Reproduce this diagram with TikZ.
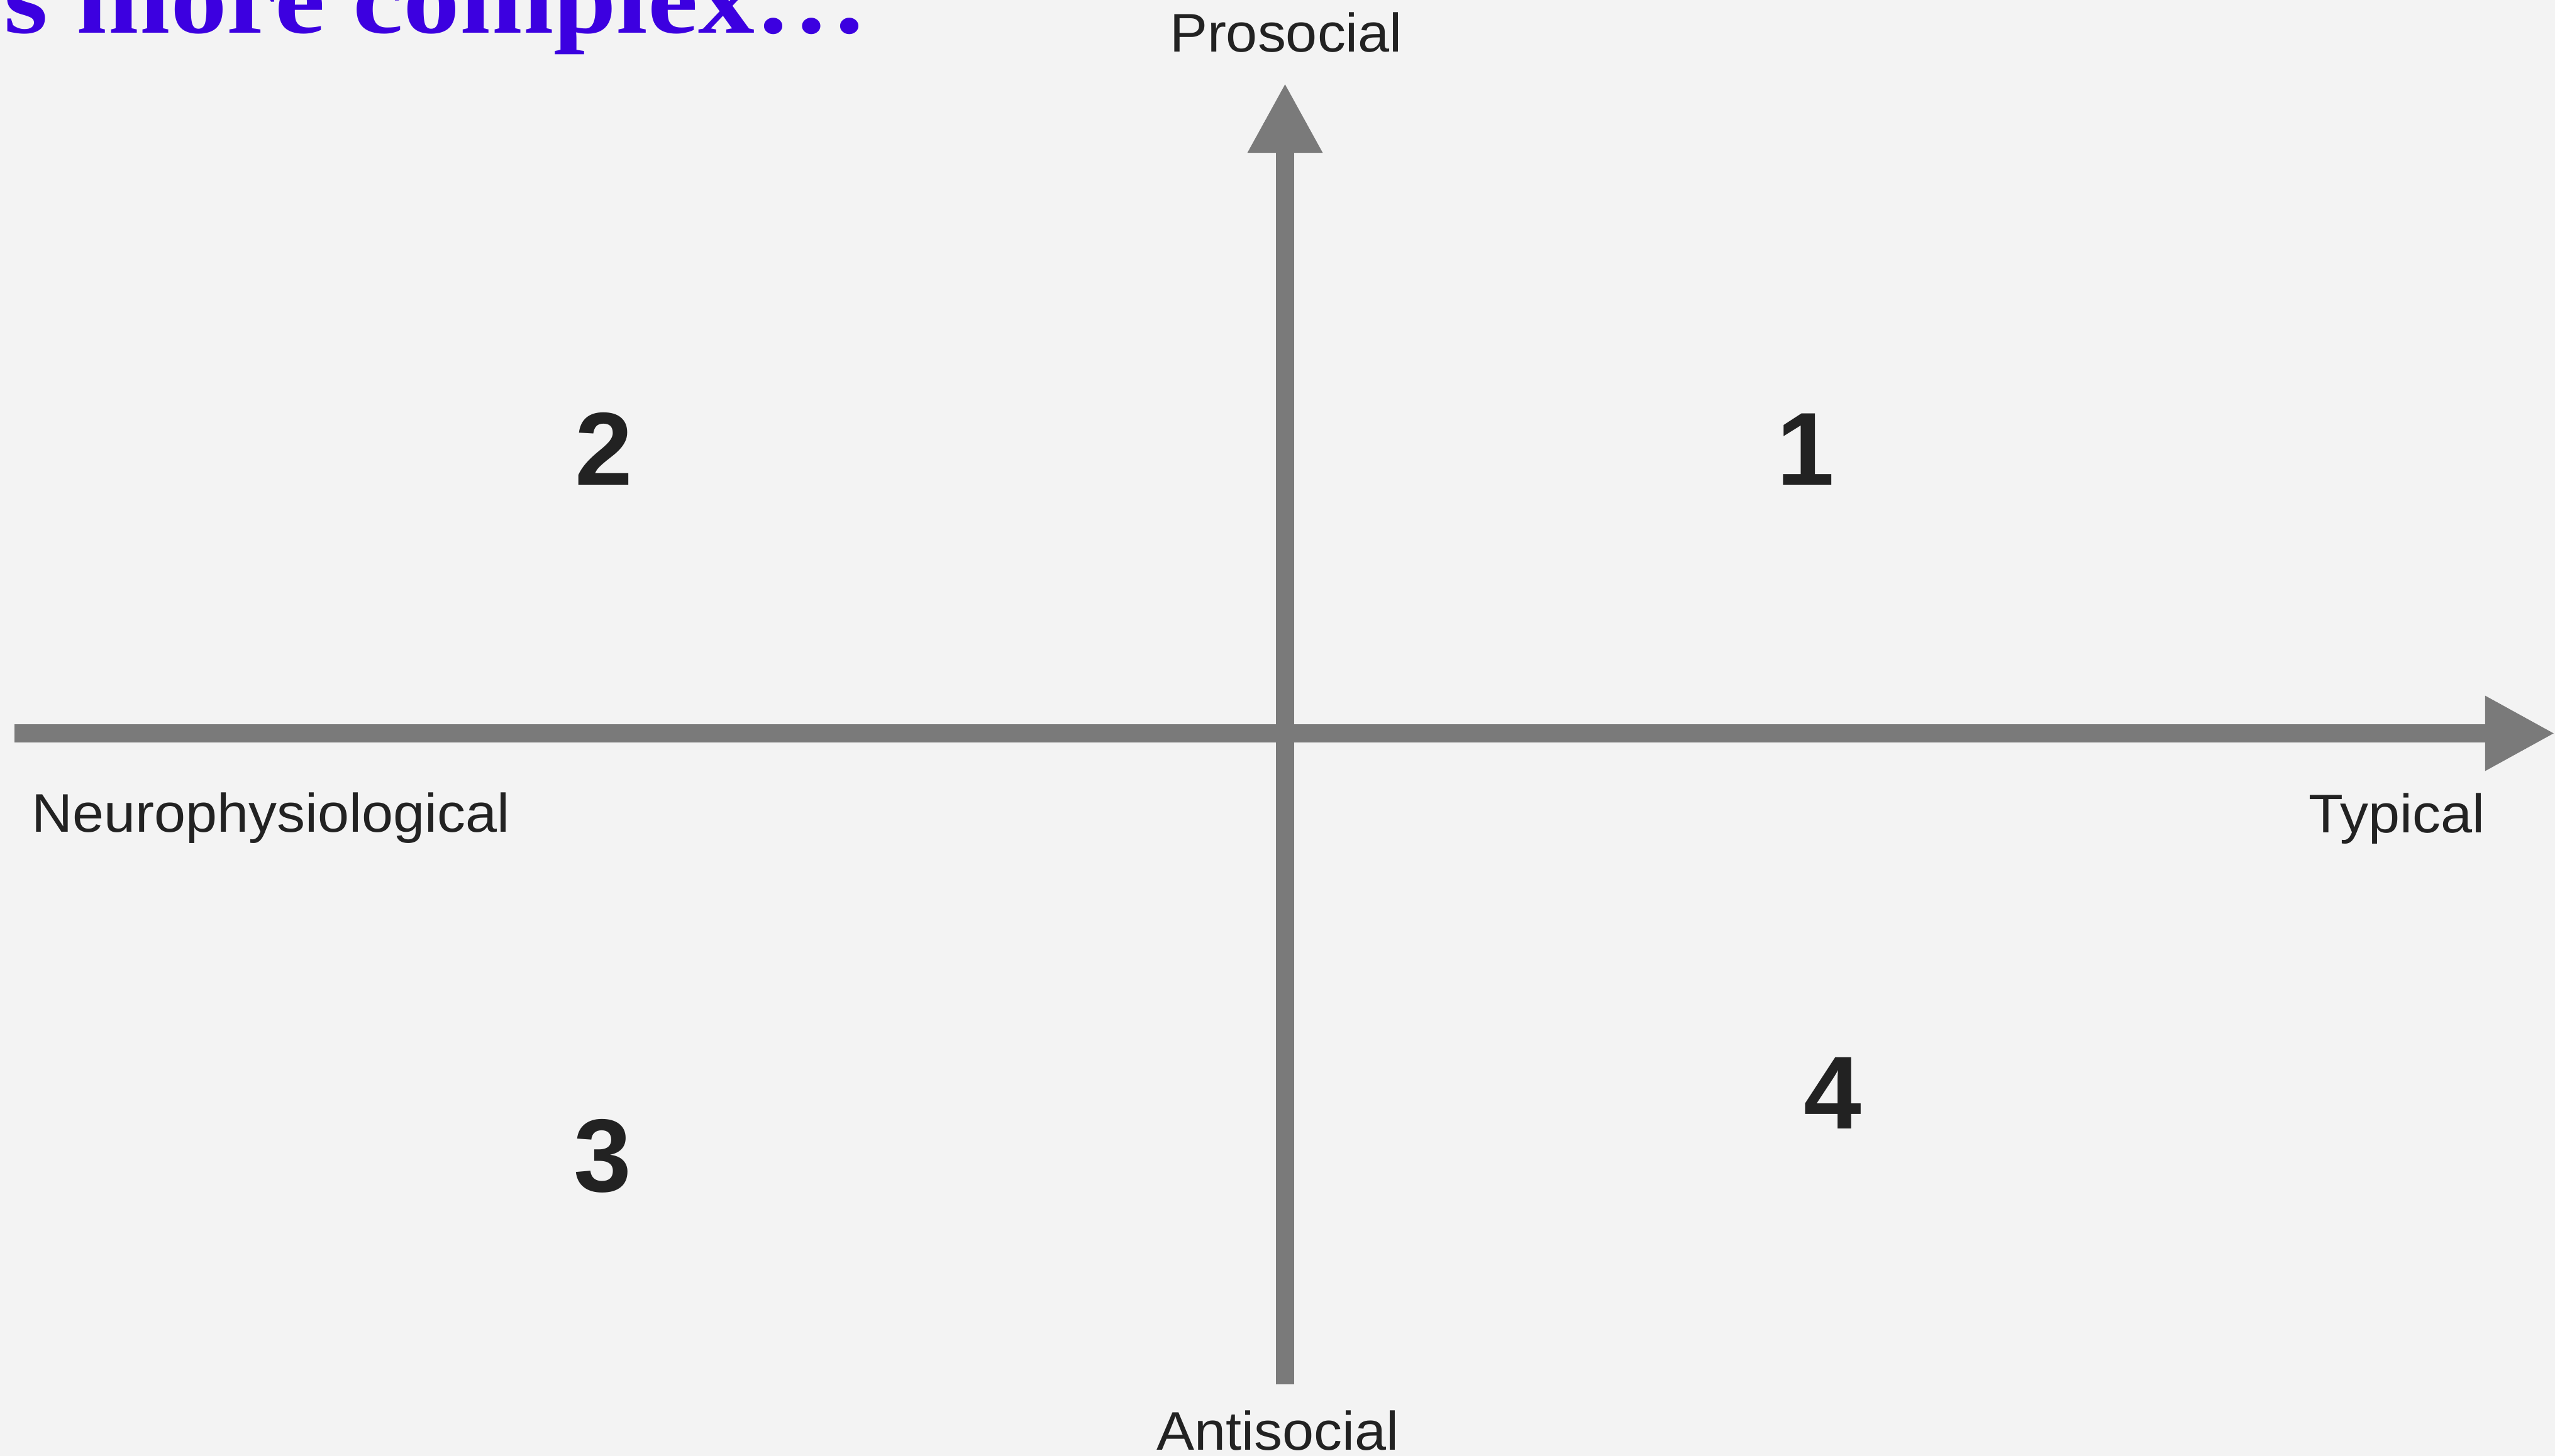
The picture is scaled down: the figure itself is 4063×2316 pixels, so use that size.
\documentclass[tikz,border=0pt]{standalone}
\usepackage{fontspec}
\usepackage{graphicx}
\setmainfont{Liberation Sans}
\newfontfamily\labelfont[FakeStretch=1.04]{Liberation Sans}
\newfontfamily\titlefont{Liberation Serif}
\usetikzlibrary{arrows.meta}
\definecolor{bgcol}{HTML}{F3F3F3}
\definecolor{axiscol}{HTML}{7A7A7A}
\definecolor{txtcol}{HTML}{222222}
\definecolor{titleblue}{HTML}{3C00E0}
\tikzset{
  axis/.style={draw=axiscol, line width=0.29cm, line cap=butt,
    -{Triangle[length=1.11cm, width=1.11cm, fill=axiscol]}},
  axislabel/.style={inner sep=0pt, text=txtcol, font=\labelfont\fontsize{24.6}{30}\selectfont},
  quadnum/.style={inner sep=0pt, anchor=base, text=txtcol, font=\bfseries\fontsize{46.9}{52}\selectfont},
}
\begin{document}
\begin{tikzpicture}[x=0.01cm, y=-0.01cm]
\useasboundingbox (0,0) rectangle (4063,2316);
\fill[bgcol] (0,0) rectangle (4063,2316);
\clip (0,0) rectangle (4063,2316);

% title fragment (cut off at the top edge, as in the reference)
\node[anchor=base west, inner sep=0pt, text=titleblue] (title) at (6,53)
  {\scalebox{1.115}[1]{\titlefont\bfseries\fontsize{45.8}{50}\selectfont s more complex\ldots}};

% axes
\coordinate (xstart) at (23,1166.5);
\coordinate (xend) at (4063,1166.5);
\coordinate (ystart) at (2043.5,2202);
\coordinate (yend) at (2043.5,132);
\draw[axis] (xstart) -- (xend);
\draw[axis] (ystart) -- (yend);

% axis labels
\node[axislabel, anchor=base] (pro) at (2045,83) {Prosocial};
\node[axislabel, anchor=base] (anti) at (2032,2306) {Antisocial};
\node[axislabel, anchor=base west] (neuro) at (50,1323) {Neurophysiological};
\node[axislabel, anchor=base east] (typ) at (3952,1324) {Typical};

% quadrant numbers
\node[quadnum] (q1) at (2871,772) {1};
\node[quadnum] (q2) at (960,772) {2};
\node[quadnum] (q3) at (958,1895) {3};
\node[quadnum] (q4) at (2914,1795) {4};
\end{tikzpicture}
\end{document}
